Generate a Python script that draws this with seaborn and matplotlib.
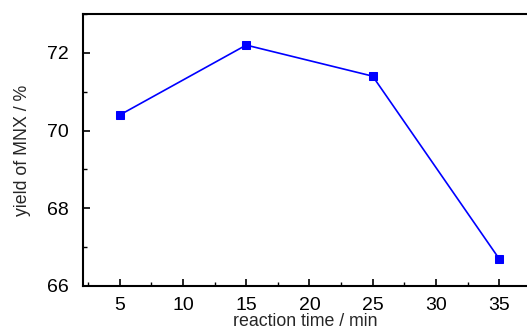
import pandas as pd
import seaborn as sns
import matplotlib.pyplot as plt
from matplotlib.ticker import MultipleLocator

# data
reaction_time = [5, 15, 25, 35]
yield_mnx = [70.4, 72.2, 71.4, 66.7]

df = pd.DataFrame({"time": reaction_time, "yield": yield_mnx})

sns.set_style("ticks")
plt.rcParams["font.family"] = ["Liberation Sans", "DejaVu Sans"]

fig = plt.figure(figsize=(5.27, 3.32), dpi=100)
ax = fig.add_axes([83 / 527, 46 / 332, 1 - 83 / 527, 272 / 332])

sns.lineplot(data=df, x="time", y="yield", ax=ax, color="#0000ff",
             marker="s", markersize=6, markeredgecolor="#0000ff",
             linewidth=1.2)

ax.set_xlim(2.1, 37.2)
ax.set_ylim(66, 73)
ax.xaxis.set_major_locator(MultipleLocator(5))
ax.xaxis.set_minor_locator(MultipleLocator(2.5))
ax.yaxis.set_major_locator(MultipleLocator(2))
ax.yaxis.set_minor_locator(MultipleLocator(1))
ax.tick_params(which="both", direction="in", labelsize=14, colors="black")
ax.tick_params(which="major", length=5, width=1.2)
ax.tick_params(which="minor", length=3, width=1)
ax.tick_params(axis="x", pad=8)
ax.tick_params(axis="y", pad=10)

for side in ["left", "bottom", "top"]:
    ax.spines[side].set_linewidth(1.5)
    ax.spines[side].set_color("black")
ax.spines["right"].set_visible(False)

ax.set_xlabel("reaction time / min", fontsize=12.8, labelpad=-1)
ax.set_ylabel("yield of MNX / %", fontsize=12.8, labelpad=12)

fig.savefig("out.png", dpi=100)
